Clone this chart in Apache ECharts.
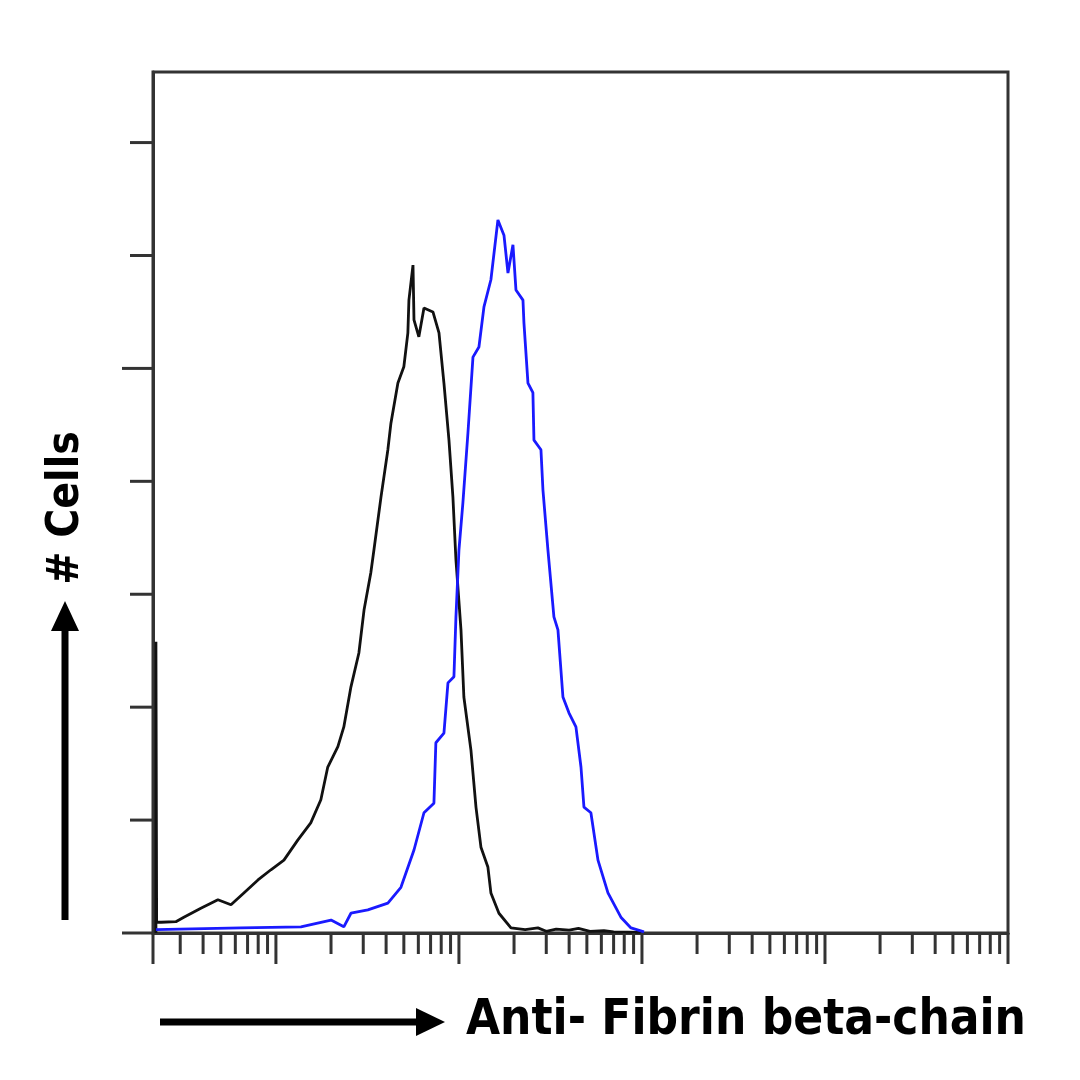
<!DOCTYPE html>
<html>
<head>
<meta charset="utf-8">
<script src="https://cdn.jsdelivr.net/npm/echarts@6/dist/echarts.min.js"></script>
<style>
html,body{margin:0;padding:0;background:#fff;}
#chart{width:1080px;height:1080px;}
</style>
</head>
<body>
<div id="chart"></div>
<script>
// ---- data (fluorescence intensity, cell count) ----
const controlHist = [
  [2.21, 0], [2.21, 51.6], [2.23, 1.9], [2.36, 1.9], [2.84, 2.0], [3.14, 2.8], [3.89, 4.4], [4.82, 5.9],
  [5.68, 5.0], [6.68, 7.1], [7.98, 9.4], [9.39, 11.2], [11.06, 12.9], [13.19, 16.5],
  [15.5, 19.5], [17.6, 23.6], [19.2, 29.4], [21.8, 33.0], [23.5, 36.5], [25.7, 43.6],
  [28.4, 49.6], [30.3, 57.2], [33.0, 63.8], [34.3, 67.8], [37.5, 77.2], [40.9, 85.6],
  [42.5, 90.3], [46.4, 97.4], [50.0, 100.3], [52.6, 106.3], [53.3, 112.1], [56.1, 118.3],
  [56.8, 108.6], [60.4, 105.6], [64.4, 110.7], [72.1, 110.0], [77.8, 106.3], [82.8, 97.4],
  [88.2, 87.3], [92.7, 77.2], [96.3, 66.1], [102.6, 53.7], [106.4, 41.8], [116.3, 32.4],
  [123.9, 22.3], [131.9, 15.2], [143.9, 11.7], [149.5, 7.1], [165.4, 3.5], [192.4, 0.9],
  [230, 0.6], [270, 0.9], [300, 0.3], [340, 0.7], [400, 0.5], [450, 0.8], [520, 0.3],
  [620, 0.4], [700, 0.2], [990, 0.1]
];
const fibrinHist = [
  [2.21, 0.6], [6.44, 0.9], [13.7, 1.1], [20.0, 2.3], [23.5, 1.1], [25.7, 3.5], [31.8, 4.1],
  [40.9, 5.3], [48.2, 8.1], [56.8, 14.7], [64.4, 21.3], [73.0, 23.0], [74.8, 33.7],
  [82.8, 35.4], [87.1, 44.3], [93.9, 45.4], [96.3, 56.0], [100.0, 67.8], [105.1, 76.2],
  [112.0, 88.6], [119.3, 102.0], [128.6, 103.8], [137.0, 110.9], [149.5, 115.7],
  [163.3, 126.3], [176.2, 123.6], [185.3, 116.9], [197.3, 121.9], [204.9, 113.9],
  [223.8, 112.1], [226.5, 108.1], [238.3, 97.4], [253.6, 95.7], [257.0, 87.3],
  [280.6, 85.6], [287.7, 78.5], [306.4, 67.8], [330.3, 56.0], [347.5, 53.7], [370.0, 41.8],
  [399, 39.0], [435.7, 36.5], [464.3, 29.4], [482.0, 22.3], [526, 21.3], [575, 12.9],
  [652, 7.1], [767, 2.8], [871, 0.9], [1026, 0.2]
];

// axis extents and ticks
const xMin = 2.13, xMax = 100000;
const yMin = 0, yMax = 152.5;
const xMajorTicks = [2.13, 10, 100, 1000, 10000, 100000];
const xMinorTicks = [3, 4, 5, 6, 7, 8, 9,
  20, 30, 40, 50, 60, 70, 80, 90,
  200, 300, 400, 500, 600, 700, 800, 900,
  2000, 3000, 4000, 5000, 6000, 7000, 8000, 9000,
  20000, 30000, 40000, 50000, 60000, 70000, 80000, 90000];
const yMajorTicks = [0, 100];
const yMinorTicks = [20, 40, 60, 80, 120, 140];

const xTitle = 'Anti- Fibrin beta-chain';
const yTitle = '# Cells';

const axisColor = '#333333';

function xTickSeries(ticks, len) {
  return {
    type: 'custom', coordinateSystem: 'cartesian2d', clip: false, silent: true, z: 5,
    data: ticks.map(v => [v, yMin]),
    renderItem: function (params, api) {
      const p = api.coord([api.value(0), api.value(1)]);
      return { type: 'line', shape: { x1: p[0], y1: p[1], x2: p[0], y2: p[1] + len },
        style: { stroke: axisColor, lineWidth: 3 } };
    }
  };
}
function yTickSeries(ticks, len) {
  return {
    type: 'custom', coordinateSystem: 'cartesian2d', clip: false, silent: true, z: 5,
    data: ticks.map(v => [xMin, v]),
    renderItem: function (params, api) {
      const p = api.coord([api.value(0), api.value(1)]);
      return { type: 'line', shape: { x1: p[0], y1: p[1], x2: p[0] - len, y2: p[1] },
        style: { stroke: axisColor, lineWidth: 3 } };
    }
  };
}

const chart = echarts.init(document.getElementById('chart'), null, { renderer: 'canvas' });
const labelFont = "'DejaVu Sans Condensed', 'DejaVu Sans', sans-serif";
chart.setOption({
  animation: false,
  backgroundColor: '#ffffff',
  grid: { left: 153, right: 72, top: 72, bottom: 147, show: true,
    borderColor: axisColor, borderWidth: 3, backgroundColor: 'transparent' },
  xAxis: {
    type: 'log', logBase: 10, min: xMin, max: xMax,
    axisLine: { show: true, onZero: false, lineStyle: { color: axisColor, width: 3 } },
    axisTick: { show: false }, axisLabel: { show: false },
    splitLine: { show: false }, minorTick: { show: false }
  },
  yAxis: {
    type: 'value', min: yMin, max: yMax,
    axisLine: { show: true, lineStyle: { color: axisColor, width: 3 } },
    axisTick: { show: false }, axisLabel: { show: false }, splitLine: { show: false }
  },
  series: [
    {
      type: 'line', name: 'Control', data: controlHist, showSymbol: false, z: 3,
      lineStyle: { color: '#111111', width: 2.8 }, clip: true
    },
    {
      type: 'line', name: 'Fibrin beta-chain', data: fibrinHist, showSymbol: false, z: 4,
      lineStyle: { color: '#1a1aff', width: 2.8 }, clip: true
    },
    xTickSeries(xMajorTicks, 31),
    xTickSeries(xMinorTicks, 21),
    yTickSeries(yMajorTicks, 31),
    yTickSeries(yMinorTicks, 23)
  ],
  graphic: [
    // x-axis title with arrow
    { type: 'line', shape: { x1: 160, y1: 1022, x2: 420, y2: 1022 },
      style: { stroke: '#000', lineWidth: 7 } },
    { type: 'polygon', shape: { points: [[416, 1008], [445, 1022], [416, 1036]] },
      style: { fill: '#000' } },
    { type: 'text', left: 466, top: 997,
      style: { text: xTitle, font: "bold 49px " + labelFont, fill: '#000' } },
    // y-axis title with arrow
    { type: 'line', shape: { x1: 65, y1: 920, x2: 65, y2: 628 },
      style: { stroke: '#000', lineWidth: 7 } },
    { type: 'polygon', shape: { points: [[51, 631], [65, 601], [79, 631]] },
      style: { fill: '#000' } },
    { type: 'text', x: 67, y: 508, rotation: Math.PI / 2,
      style: { text: yTitle, font: "bold 44px " + labelFont, fill: '#000',
        align: 'center', verticalAlign: 'middle' } }
  ]
});
</script>
</body>
</html>
